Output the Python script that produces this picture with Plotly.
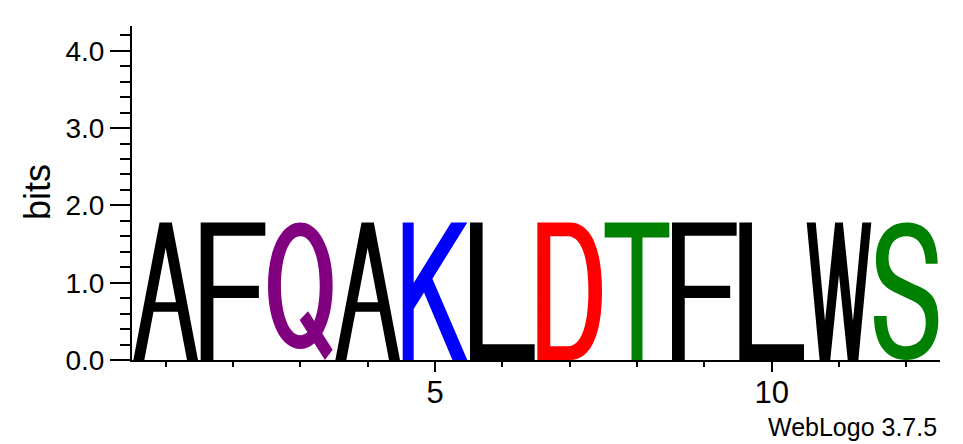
import re
import plotly.graph_objects as go

# ---------------- data ----------------
positions = [1, 2, 3, 4, 5, 6, 7, 8, 9, 10, 11, 12]
residues = ["A", "F", "Q", "A", "K", "L", "D", "T", "F", "L", "W", "S"]
bits = [1.78, 1.78, 1.78, 1.78, 1.78, 1.78, 1.78, 1.78, 1.78, 1.78, 1.78, 1.78]
x_tick_values = [5, 10]
x_tick_labels = ["5", "10"]
y_tick_values = [0, 1, 2, 3, 4]
y_tick_labels = ["0.0", "1.0", "2.0", "3.0", "4.0"]
y_max = 4.32
y_title = "bits"
footer = "WebLogo 3.7.5"

# ---------------- style ----------------
COLORS = {
    "A": "#000000", "F": "#000000", "L": "#000000", "W": "#000000",
    "Q": "#800080", "K": "#0000ff", "D": "#ff0000", "T": "#008000", "S": "#008000",
}
FONT = "Liberation Sans, Arial, Helvetica, sans-serif"
MARGIN = 0.02  # horizontal padding inside a column (axis units)
PAGE_OFFSET = 8  # default page margin of the browser body
W_PX, H_PX = 963 - PAGE_OFFSET, 444 - PAGE_OFFSET
M_L, M_R, M_T, M_B = 132 - PAGE_OFFSET, 23, 26 - PAGE_OFFSET, 84
PLOT_W = W_PX - M_L - M_R
PLOT_H = H_PX - M_T - M_B


def ellipse(cx, cy, rx, ry, k=0.58):
    return (f"M {cx+rx} {cy} C {cx+rx} {cy+k*ry} {cx+k*rx} {cy+ry} {cx} {cy+ry} "
            f"C {cx-k*rx} {cy+ry} {cx-rx} {cy+k*ry} {cx-rx} {cy} "
            f"C {cx-rx} {cy-k*ry} {cx-k*rx} {cy-ry} {cx} {cy-ry} "
            f"C {cx+k*rx} {cy-ry} {cx+rx} {cy-k*ry} {cx+rx} {cy} Z ")


# glyph outlines in a unit box (u: 0..1 left->right, v: 0..1 bottom->top)
GLYPHS = {
    "A": ["M 0 0 L 0.405 1 L 0.595 1 L 1 0 L 0.83 0 L 0.688 0.35 L 0.312 0.35 L 0.17 0 Z "
          "M 0.34 0.42 L 0.66 0.42 L 0.5 0.815 Z"],
    "F": ["M 0 0 L 0 1 L 1 1 L 1 0.903 L 0.197 0.903 L 0.197 0.54 L 0.9 0.54 "
          "L 0.9 0.45 L 0.197 0.45 L 0.197 0 Z"],
    "L": ["M 0 0 L 0 1 L 0.195 1 L 0.195 0.115 L 1 0.115 L 1 0 Z"],
    "T": ["M 0 1 L 1 1 L 1 0.89 L 0.585 0.89 L 0.585 0 L 0.415 0 L 0.415 0.89 L 0 0.89 Z"],
    "K": ["M 0 0 L 0 1 L 0.17 1 L 0.17 0.56 L 0.75 1 L 1 1 L 0.46 0.59 L 1 0 L 0.77 0 "
          "L 0.33 0.49 L 0.17 0.37 L 0.17 0 Z"],
    "D": ["M 0 0 L 0 1 L 0.5 1 C 0.86 1 1 0.78 1 0.5 C 1 0.22 0.86 0 0.5 0 Z "
          "M 0.2 0.1 L 0.2 0.9 L 0.47 0.9 C 0.7 0.9 0.79 0.72 0.79 0.5 "
          "C 0.79 0.28 0.7 0.1 0.47 0.1 Z"],
    "Q": [ellipse(0.5, 0.54, 0.5, 0.46) + ellipse(0.5, 0.54, 0.30, 0.36),
          "M 0.49 0.29 L 0.62 0.355 L 1 0.075 L 0.88 0 Z"],
    "W": ["M 0 1 L 0.14 1 L 0.284 0.281 L 0.44 1 L 0.56 1 L 0.716 0.281 L 0.86 1 L 1 1 "
          "L 0.8 0 L 0.635 0 L 0.5 0.62 L 0.365 0 L 0.2 0 Z"],
    "S": ["M 0.985 0.70 C 0.975 0.915 0.79 1 0.5 1 C 0.2 1 0.03 0.88 0.03 0.73 "
          "C 0.03 0.56 0.2 0.515 0.4 0.475 L 0.62 0.425 C 0.77 0.39 0.8 0.33 0.8 0.27 "
          "C 0.8 0.16 0.68 0.1 0.5 0.1 C 0.3 0.1 0.2 0.17 0.195 0.32 L 0 0.32 "
          "C 0 0.11 0.2 0 0.5 0 C 0.81 0 0.995 0.12 0.995 0.29 "
          "C 0.995 0.45 0.87 0.505 0.64 0.545 L 0.42 0.595 C 0.27 0.63 0.225 0.68 0.225 0.74 "
          "C 0.225 0.85 0.34 0.9 0.5 0.9 C 0.68 0.9 0.79 0.83 0.8 0.7 Z"],
}


def place(template, x0, w, y0, h):
    out, nums = [], []
    for tok in re.findall(r"[MLCZ]|-?\d*\.?\d+", template):
        if tok.isalpha():
            out.append(tok)
        else:
            nums.append(float(tok))
            if len(nums) == 2:
                u, v = nums
                out.append(f"{x0 + u * w:.5f},{y0 + v * h:.5f}")
                nums = []
    return " ".join(out)


shapes = []
for pos, res, h in zip(positions, residues, bits):
    x0 = pos - 0.5 + MARGIN
    w = 1 - 2 * MARGIN
    for tpl in GLYPHS[res]:
        shapes.append(dict(
            type="path", xref="x", yref="y",
            path=place(tpl, x0, w, 0, h),
            fillcolor=COLORS[res], fillrule="evenodd",
            line=dict(width=0), layer="above",
        ))


def px_x(px):  # window pixel -> paper x
    return (px - PAGE_OFFSET - M_L) / PLOT_W


def px_y(py):  # window pixel -> paper y
    return (H_PX - M_B - (py - PAGE_OFFSET)) / PLOT_H


fig = go.Figure()
fig.add_trace(go.Scatter(x=positions, y=[0] * len(positions), mode="markers",
                         marker=dict(opacity=0), hoverinfo="skip", showlegend=False))

fig.update_layout(
    width=W_PX, height=H_PX,
    margin=dict(l=M_L, r=M_R, t=M_T, b=M_B, autoexpand=False),
    paper_bgcolor="white", plot_bgcolor="white",
    shapes=shapes,
    showlegend=False,
    font=dict(family=FONT, color="black"),
    annotations=[
        dict(text=y_title, xref="paper", yref="paper", x=px_x(37), y=px_y(192),
             textangle=-90, showarrow=False, font=dict(size=36, family=FONT),
             xanchor="center", yanchor="middle"),
        dict(text=footer, xref="paper", yref="paper", x=px_x(939), y=px_y(427),
             showarrow=False, font=dict(size=25, family=FONT),
             xanchor="right", yanchor="middle"),
    ],
)
fig.update_xaxes(
    range=[0.5, 12.5], showgrid=False, zeroline=False,
    showline=True, linecolor="black", linewidth=2,
    tickmode="array", tickvals=x_tick_values, ticktext=x_tick_labels,
    ticks="outside", ticklen=10, tickwidth=2, tickcolor="black",
    tickfont=dict(size=31, family=FONT), ticklabelstandoff=-6,
    minor=dict(tickmode="linear", tick0=0, dtick=1, ticks="outside", ticklen=5,
               tickwidth=2, tickcolor="black", showgrid=False),
)
fig.update_yaxes(
    range=[0, y_max], showgrid=False, zeroline=False,
    showline=True, linecolor="black", linewidth=2,
    tickmode="array", tickvals=y_tick_values, ticktext=y_tick_labels,
    ticks="outside", ticklen=20, tickwidth=2, tickcolor="black",
    tickfont=dict(size=28, family=FONT),
    minor=dict(tickmode="linear", tick0=0, dtick=0.2, ticks="outside", ticklen=10,
               tickwidth=2, tickcolor="black", showgrid=False),
)

fig.write_html("out.html")
